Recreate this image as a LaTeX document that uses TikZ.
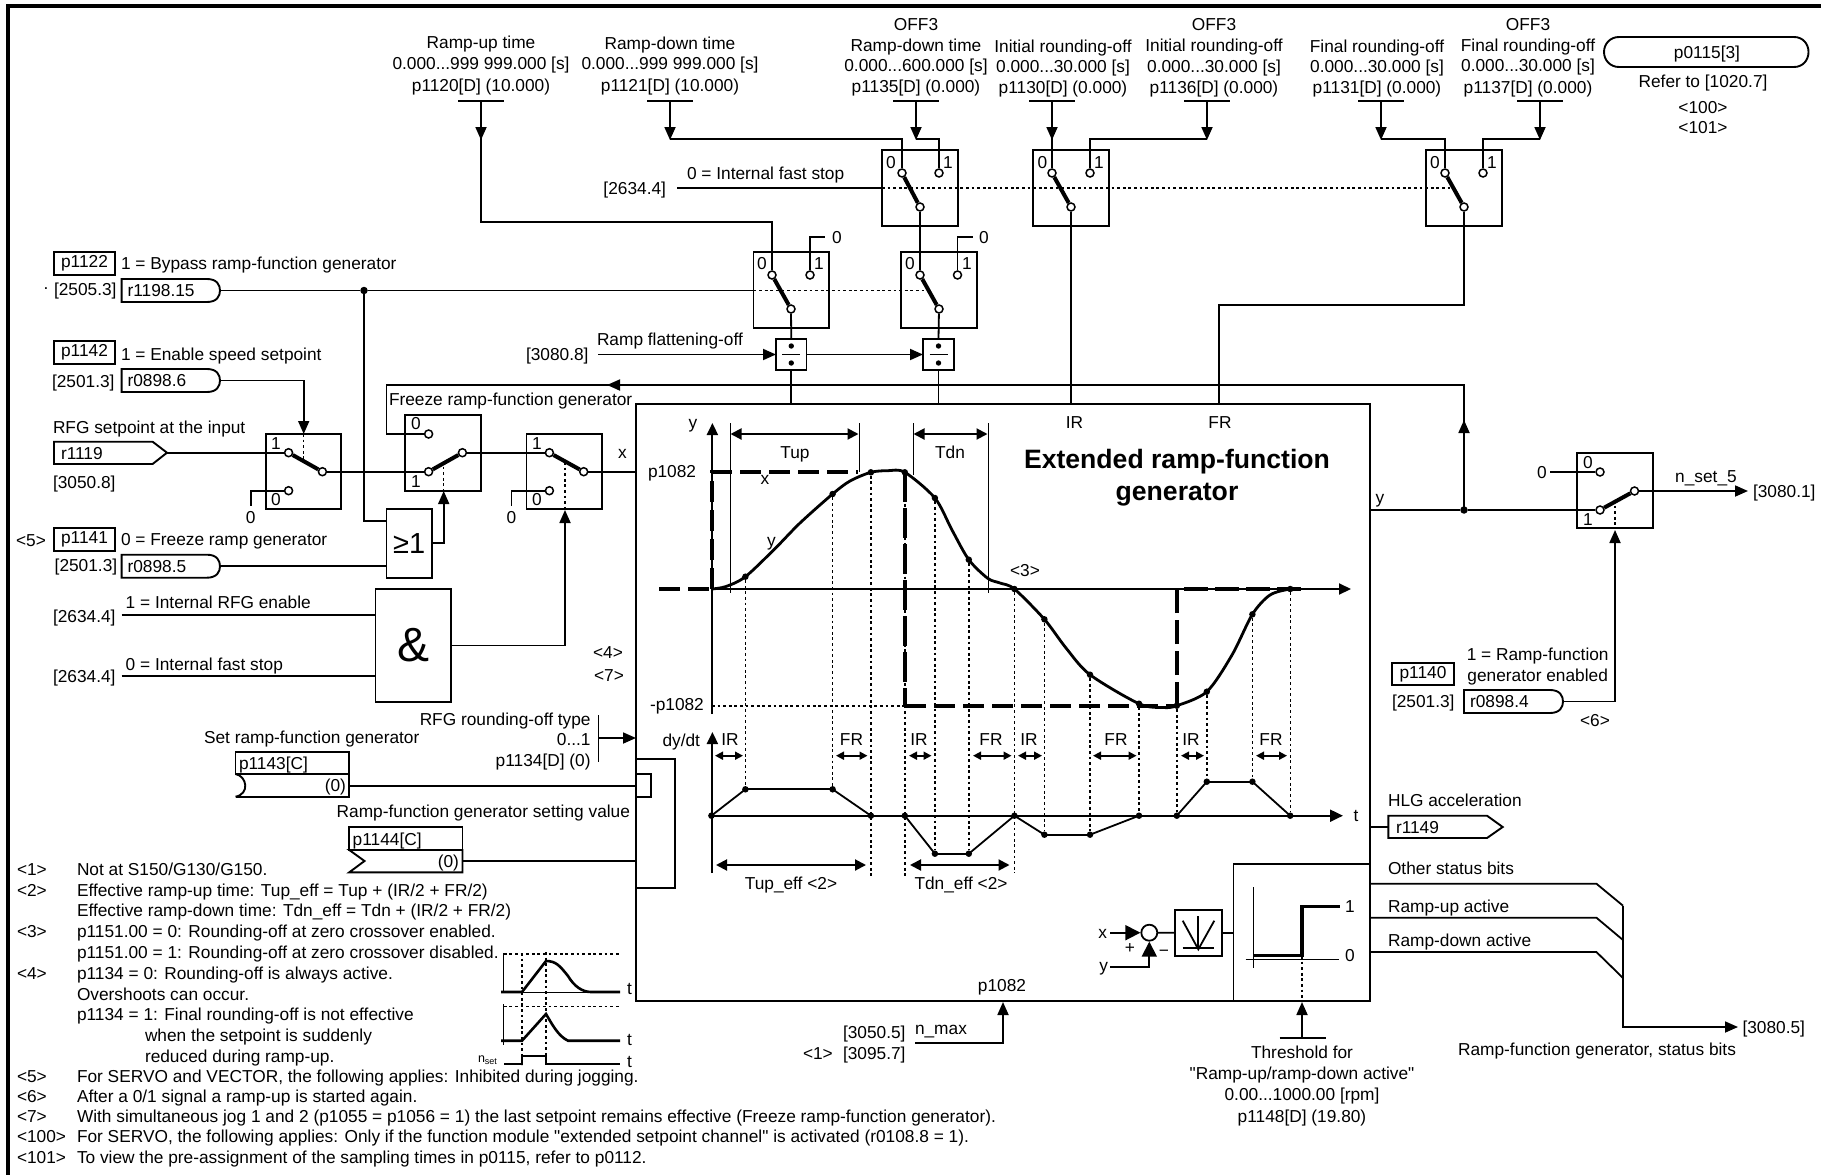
\documentclass[tikz,border=0pt]{standalone}
\usepackage{fontspec}
\setmainfont{Liberation Sans}[Ligatures=TeXOff]
\usetikzlibrary{arrows.meta,calc}
\newcounter{tn}
\newcommand{\pfont}{\fontsize{17.3}{19}\selectfont}
\tikzset{
  wire/.style={line width=1.8pt},
  arr/.style={wire,-{Triangle[length=13pt,width=11pt]}},
  barr/.style={wire,-{Triangle[length=15pt,width=15pt]}},
  darr/.style={line width=2pt,{Triangle[length=11pt,width=11pt]}-{Triangle[length=11pt,width=11pt]}},
  sarr/.style={line width=1.8pt,{Triangle[length=8pt,width=8pt]}-{Triangle[length=8pt,width=8pt]}},
  blk/.style={draw,line width=1.9pt,inner sep=0pt,outer sep=0pt},
  term/.style={circle,draw,fill=white,line width=1.5pt,inner sep=0pt,minimum size=8pt},
  jdot/.style={circle,fill=black,inner sep=0pt,minimum size=7.5pt},
  cdot/.style={circle,fill=black,inner sep=0pt,minimum size=6.5pt},
  lever/.style={line width=4pt},
  dotl/.style={line width=1.4pt,dash pattern=on 2.8pt off 2.8pt},
  setp/.style={line width=3.4pt,dash pattern=on 21pt off 8pt},
  thin/.style={line width=1pt},
  txt/.style={inner sep=0pt,outer sep=0pt,font=\pfont,text height=14pt,text depth=2pt},
  tbig/.style={txt,font=\bfseries\fontsize{26.6}{30}\selectfont,text height=22pt,text depth=3pt,anchor=center},
  tlet/.style={inner sep=0pt,outer sep=0pt,font=\pfont,text height=12pt,text depth=0pt,anchor=center}
}
\newcommand{\T}[3][west]{\stepcounter{tn}\node[txt,anchor=#1] (t\thetn) at (#2) {#3};}
\newcommand{\bx}[6]{\node[blk,anchor=north west,minimum width={(#4-#2)*1pt},minimum height={(#5-#3)*1pt}] (#1) at (#2,#3) {#6};}
\newcommand{\pill}[6]{% name x1 y1 x2 y2 text
  \draw[blk] (#2,#3) -- ({#4-13},#3) .. controls ({#4-3},#3) and (#4,{#3+6}) .. (#4,{(#3+#5)/2}) .. controls (#4,{#5-6}) and ({#4-3},#5) .. ({#4-13},#5) -- (#2,#5) -- cycle;
  \coordinate (#1) at (#4,{(#3+#5)/2});
  \T{{#2+6},{(#3+#5)/2}}{#6}}
\begin{document}
\begin{tikzpicture}[x=1pt,y=-1pt]
\useasboundingbox (0,0) rectangle (1821,1175);
% frame
\draw[line width=3.6pt] (1821,6) -- (8,6) -- (8,1175);

%% ---------- top parameter labels
\T[center]{481,42}{Ramp-up time}
\T[center]{481,63}{0.000...999 999.000 [s]}
\T[center]{481,85}{p1120[D] (10.000)}
\T[center]{670,43}{Ramp-down time}
\T[center]{670,63}{0.000...999 999.000 [s]}
\T[center]{670,85}{p1121[D] (10.000)}
\T[center]{916,24}{OFF3}
\T[center]{916,45}{Ramp-down time}
\T[center]{916,65}{0.000...600.000 [s]}
\T[center]{916,86}{p1135[D] (0.000)}
\T[center]{1063,46}{Initial rounding-off}
\T[center]{1063,66}{0.000...30.000 [s]}
\T[center]{1063,87}{p1130[D] (0.000)}
\T[center]{1214,24}{OFF3}
\T[center]{1214,45}{Initial rounding-off}
\T[center]{1214,66}{0.000...30.000 [s]}
\T[center]{1214,87}{p1136[D] (0.000)}
\T[center]{1377,46}{Final rounding-off}
\T[center]{1377,66}{0.000...30.000 [s]}
\T[center]{1377,87}{p1131[D] (0.000)}
\T[center]{1528,24}{OFF3}
\T[center]{1528,45}{Final rounding-off}
\T[center]{1528,65}{0.000...30.000 [s]}
\T[center]{1528,87}{p1137[D] (0.000)}

% p0115
\draw[blk] (1619,37) -- (1794,37) .. controls (1803,37) and (1808.5,44) .. (1808.5,52) .. controls (1808.5,60) and (1803,67) .. (1794,67) -- (1619,67) .. controls (1610,67) and (1604,60) .. (1604,52) .. controls (1604,44) and (1610,37) .. (1619,37) -- cycle;
\T[center]{1707,52}{p0115[3]}
\T[center]{1703,81}{Refer to [1020.7]}
\T[center]{1703,107}{<100>}
\T[center]{1703,127}{<101>}

%% ---------- switches
\bx{swA}{882}{150}{958}{226}{}
\bx{swB}{1033}{150}{1109}{226}{}
\bx{swG}{1426}{150}{1502}{226}{}
\bx{swC}{753.5}{252}{829}{328}{}
\bx{swD}{901}{252}{977}{328}{}
\bx{swH}{265.7}{434}{341}{509}{}
\bx{swF}{405.3}{415}{481}{490.7}{}
\bx{swJ}{526.5}{434}{602.4}{509}{}
\bx{swO}{1577}{453}{1653}{528}{}

\T[center]{891,162}{0}\T[center]{948,162}{1}
\T[center]{1042.5,162}{0}\T[center]{1099,162}{1}
\T[center]{1435,162}{0}\T[center]{1492,162}{1}
\T[center]{762,263}{0}\T[center]{819,263}{1}
\T[center]{910,263}{0}\T[center]{967,263}{1}
\T[center]{276,443}{1}\T[center]{276,499}{0}
\T[center]{416,423}{0}\T[center]{416,481}{1}
\T[center]{537,443}{1}\T[center]{537,499}{0}
\T[center]{1588,462}{0}\T[center]{1588,519}{1}

% terminals
\node[term] (A0) at (902,173) {};\node[term] (A1) at (939,173) {};\node[term] (Ap) at (920,207) {};
\node[term] (B0) at (1052,173) {};\node[term] (B1) at (1090,173) {};\node[term] (Bp) at (1071,207) {};
\node[term] (G0) at (1445,173) {};\node[term] (G1) at (1483,173) {};\node[term] (Gp) at (1464,207) {};
\node[term] (C0) at (772,275) {};\node[term] (C1) at (810,275) {};\node[term] (Cp) at (791,309) {};
\node[term] (D0) at (920,275) {};\node[term] (D1) at (957.5,275) {};\node[term] (Dp) at (939,309) {};
\node[term] (H1) at (288.6,452.7) {};\node[term] (H0) at (288.6,490.7) {};\node[term] (Hp) at (322.4,471.7) {};
\node[term] (F0) at (428.6,434) {};\node[term] (F1) at (428.6,471.7) {};\node[term] (Fp) at (462.4,452.7) {};
\node[term] (J1) at (549.4,452.7) {};\node[term] (J0) at (549.4,490.7) {};\node[term] (Jp) at (583.7,471.7) {};
\node[term] (O0) at (1600,472) {};\node[term] (O1) at (1600,510) {};\node[term] (Op) at (1634.5,491) {};
% levers
\foreach \a/\b in {A0/Ap,B0/Bp,G0/Gp,C0/Cp,D0/Dp,H1/Hp,F1/Fp,J1/Jp,O1/Op}{\draw[lever] (\a) -- (\b);}

%% ---------- top inputs
\coordinate (i1) at (481,101);\draw[wire] (458,101) -- (504,101);
\coordinate (i2) at (670,101);\draw[wire] (647,101) -- (693,101);
\coordinate (i3) at (916,101);\draw[wire] (893,101) -- (939,101);
\coordinate (i4) at (1052,101);\draw[wire] (1029,101) -- (1075,101);
\coordinate (i5) at (1207,101);\draw[wire] (1184,101) -- (1230,101);
\coordinate (i6) at (1381,101);\draw[wire] (1358,101) -- (1404,101);
\coordinate (i7) at (1540,101);\draw[wire] (1517,101) -- (1563,101);
\draw[arr] (i1) -- (481,140);
\draw[wire] (481,135) -- (481,222) -| (C0);
\draw[arr] (i2) -- (670,140);
\draw[wire] (670,139) -| (A0);
\draw[arr] (i3) -- (916,140);
\draw[wire] (916,139) -| (A1);
\draw[arr] (i4) -- (1052,140);
\draw[wire] (1052,135) -- (B0);
\draw[arr] (i5) -- (1207,140);
\draw[wire] (1207,139) -| (B1);
\draw[arr] (i6) -- (1381,140);
\draw[wire] (1381,139) -| (G0);
\draw[arr] (i7) -- (1540,140);
\draw[wire] (1540,139) -| (G1);
% internal fast stop
\T{687,173}{0 = Internal fast stop}
\T[east]{666,188}{[2634.4]}
\coordinate (ifs) at (677,188);
\draw[wire] (ifs) -- (ifs -| swA.west);
\draw[dotl] (ifs -| swA.west) -- (1451,188);
% switch chain
\draw[wire] (Ap) -- (D0);
\draw[wire] (C1) -- (810,237) -- (825,237);
\T[center]{837,237}{0}
\draw[wire] (D1) -- (957.5,237) -- (973,237);
\T[center]{984,237}{0}
% divide blocks
\bx{divE}{776}{339}{806.5}{370}{}
\bx{divF}{923}{339}{954}{370}{}
\foreach \n in {divE,divF}{
  \draw[wire] ($(\n.center)+(-9,0)$) -- ($(\n.center)+(9,0)$);
  \fill ($(\n.center)+(0,-8.5)$) circle (2.7pt);
  \fill ($(\n.center)+(0,8.5)$) circle (2.7pt);
}
\draw[wire] (Cp) -- (divE.north);
\draw[wire] (Dp) -- (divF.north);
\T{597,339}{Ramp flattening-off}
\T{526,354}{[3080.8]}
\coordinate (rf) at (598,354.5);
\draw[arr] (rf) -- (divE.west);
\draw[arr] (divE.east) -- (divF.west);

%% ---------- main block
\bx{mainbox}{636}{404}{1370}{1001}{}
\draw[wire] (divE.south) -- (divE.south |- mainbox.north);
\draw[wire] (divF.south) -- (divF.south |- mainbox.north);
\draw[wire] (Bp) -- (Bp |- mainbox.north);
\draw[wire] (Gp) -- (1464,305) -- (1219,305) -- (1219,404);
\T[center]{1074.5,422}{IR}
\T[center]{1220,422}{FR}
\node[tbig] (title1) at (1177,459) {Extended ramp-function};
\node[tbig] (title2) at (1177,491) {generator};

%% ---------- graph upper
\draw[line width=2pt,-{Triangle[length=12pt,width=11pt]}] (712.4,714) -- (712.4,423);
\draw[line width=2pt,-{Triangle[length=12pt,width=11pt]}] (712,589) -- (1351,589);
\draw[setp] (659,589) -- (712,589);
\draw[setp] (712,589) -- (712,472) -- (858,472);
\draw[setp,dash pattern=on 30pt off 6pt] (905,472) -- (905,706);
\draw[setp] (905,706) -- (1177,706);
\draw[setp,dash pattern=on 24pt off 7pt] (1177,706) -- (1177,589) -- (1303,589);
\draw[dotl] (712,706) -- (905,706);
\draw[thin] (730,423) -- (730,593);
\draw[thin] (859,423) -- (859,472);
\draw[thin] (913,423) -- (913,475);
\draw[thin] (988,423) -- (988,593);
\draw[darr] (730.5,434) -- (858.5,434);
\draw[darr] (913.5,434) -- (987.5,434);
\T[center]{795,452}{Tup}
\T[center]{950,452}{Tdn}
\T[center]{693,422}{y}
\T[center]{765,478}{x}
\T[center]{771.5,540}{y}
\T{648,471}{p1082}
\T{650,704}{-p1082}
\T[center]{1025,570}{<3>}
\draw[line width=2.8pt] plot[smooth,tension=.5] coordinates {(712,589)(726,586.5)(745.4,576.7)(775,548.6)(800,523)(832.6,494)(850,481)(870.9,472.3)(888,470.7)(904.8,472.3)(934.9,498)(952,530)(968.8,559.7)(987.7,578.3)(1000,583)(1014.4,589)(1044.4,619.3)(1066,648)(1090,674.7)(1139,703.7)(1163,707.5)(1176.8,705.7)(1206.8,691.7)(1232,655)(1252.4,614.3)(1270,595)(1290.2,589)(1300,589)};
% curve points
\node[cdot] (cA) at (745.4,576.7) {};
\node[cdot] (cB) at (832.6,494) {};
\node[cdot] (cC) at (870.9,472.3) {};
\node[cdot] (cD) at (904.8,472.3) {};
\node[cdot] (cE) at (934.9,498) {};
\node[cdot] (cF) at (968.8,559.7) {};
\node[cdot] (cG) at (1014.4,589) {};
\node[cdot] (cH) at (1044.4,619.3) {};
\node[cdot] (cI) at (1090,674.7) {};
\node[cdot] (cJ) at (1139,703.7) {};
\node[cdot] (cK) at (1176.8,705.7) {};
\node[cdot] (cL) at (1206.8,691.7) {};
\node[cdot] (cM) at (1252.4,614.3) {};
\node[cdot] (cN) at (1290.2,589) {};

%% ---------- graph lower
\draw[line width=2pt,-{Triangle[length=12pt,width=11pt]}] (712.4,873) -- (712.4,732);
\draw[line width=2pt,-{Triangle[length=13pt,width=12pt]}] (711,815.7) -- (1343,815.7);
\node[cdot] (dO) at (711.4,815.7) {};
\node[cdot] (dA) at (745.4,789.3) {};
\node[cdot] (dB) at (832.6,789.3) {};
\node[cdot] (dC) at (870.9,815.7) {};
\node[cdot] (dD) at (904.8,815.7) {};
\node[cdot] (dE) at (934.9,853.7) {};
\node[cdot] (dF) at (968.8,853.7) {};
\node[cdot] (dG) at (1014.4,815.7) {};
\node[cdot] (dH) at (1044.4,834.7) {};
\node[cdot] (dI) at (1090,834.7) {};
\node[cdot] (dJ) at (1139,815.7) {};
\node[cdot] (dK) at (1176.8,815.7) {};
\node[cdot] (dL) at (1206.8,781.7) {};
\node[cdot] (dM) at (1252.4,781.7) {};
\node[cdot] (dN) at (1290.2,815.7) {};
\foreach \a/\b in {dO/dA,dA/dB,dB/dC,dD/dE,dE/dF,dF/dG,dG/dH,dH/dI,dI/dJ,dK/dL,dL/dM,dM/dN}{\draw[wire] (\a.center) -- (\b.center);}
\foreach \a/\b in {cA/dA,cB/dB,cE/dE,cF/dF,cH/dH,cI/dI,cJ/dJ,cK/dK,cL/dL,cM/dM,cN/dN}{\draw[dotl] (\a) -- (\b);}
\draw[dotl] (cC) -- (870.9,877);
\draw[dotl] (cD) -- (904.8,877);
\draw[dotl] (cG) -- (1014.4,873);
\T[east]{700,740}{dy/dt}
\T[center]{730,739}{IR}\T[center]{851.5,739}{FR}\T[center]{919,739}{IR}\T[center]{991,739}{FR}
\T[center]{1029,739}{IR}\T[center]{1116,739}{FR}\T[center]{1191,739}{IR}\T[center]{1271,739}{FR}
\draw[sarr] (715,755.7) -- (743,755.7);
\draw[sarr] (836,755.7) -- (867.5,755.7);
\draw[sarr] (909,755.7) -- (931.5,755.7);
\draw[sarr] (973,755.7) -- (1011.5,755.7);
\draw[sarr] (1018,755.7) -- (1042,755.7);
\draw[sarr] (1093,755.7) -- (1136.5,755.7);
\draw[sarr] (1181,755.7) -- (1204,755.7);
\draw[sarr] (1256,755.7) -- (1287,755.7);
\draw[darr] (716,865) -- (866,865);
\draw[darr] (910,865) -- (1009.5,865);
\T[center]{791,883}{Tup\_eff <2>}
\T[center]{961,883}{Tdn\_eff <2>}
\T[center]{1356,815}{t}

%% ---------- comparator group
\bx{hyst}{1233.5}{864}{1370}{1001}{}
\draw[thin] (1253,887) -- (1253,968);
\draw[thin] (1245.6,959) -- (1338.7,959);
\draw[line width=3.2pt] (1253,955.7) -- (1302,955.7) -- (1302,906.7) -- (1340,906.7);
\T[center]{1350,906}{1}
\T[center]{1350,955}{0}
\draw[dotl] (1302,956) -- (1302,1001);
\coordinate (thr) at (1302,1038);
\draw[wire] (1279.5,1038) -- (1325.6,1038);
\draw[arr] (thr) -- (1302,1002);
\T[center]{1302,1052}{Threshold for}
\T[center]{1302,1073}{"Ramp-up/ramp-down active"}
\T[center]{1302,1094}{0.00...1000.00 [rpm]}
\T[center]{1302,1116}{p1148[D] (19.80)}
\node[circle,draw,line width=1.8pt,inner sep=0pt,minimum size=16pt] (sum) at (1149.3,932.7) {};
\bx{absb}{1175.3}{910}{1221.7}{955.7}{}
\draw[wire] (1182.7,920.7) -- (1198.3,949.3) -- (1214.3,920.7);
\draw[wire] (1198.3,916) -- (1198.3,949.3);
\draw[wire] (1182.7,947.7) -- (1214.3,947.7);
\T[center]{1102.6,932}{x}
\T[center]{1103.6,965}{y}
\coordinate (sx) at (1110,932.7);
\coordinate (sy) at (1110,966.7);
\draw[barr] (sx) -- (sum.west);
\draw[barr] (sy) -| (sum.south);
\T[center]{1130,947}{+}
\T[center]{1164,950}{−}
\draw[wire] (sum.east) -- (absb.west);
\draw[wire] (absb.east) -- (absb.east -| hyst.west);
\T[center]{1002,985.7}{p1082}
\T{915,1028}{n\_max}
\T{843,1032}{[3050.5]}
\T{843,1053}{[3095.7]}
\T{803,1053}{<1>}
\coordinate (nm) at (915,1043);
\draw[arr] (nm) -| (1003,1002);

%% ---------- right outputs
\coordinate (my) at (1370,510);
\node[jdot] (jy) at (1464,510) {};
\draw[wire] (my) -- (jy);
\draw[wire] (jy) -- (O1);
\T[center]{1380,497}{y}
\draw[wire] (O0) -- (1550,472);
\T[center]{1542,472}{0}
\draw[arr] (Op) -- (1748,491);
\T[center]{1706,476}{n\_set\_5}
\T{1753,491}{[3080.1]}
\draw[dotl] (1615,500) -- (1615,528);
\pill{r0898d}{1464}{690}{1563}{713}{r0898.4}
\draw[arr] (r0898d) -| (1615,530);
\bx{p1140}{1392}{663}{1454}{685}{\pfont p1140}
\T{1392,701}{[2501.3]}
\T[center]{1537.7,654}{1 = Ramp-function}
\T[center]{1537.7,675}{generator enabled}
\T[center]{1595,720}{<6>}
% feedback y
\coordinate (fb) at (428.6,385);
\draw[wire] (jy) -- (1464,385) -- (386.5,385) -- (386.5,434) -- (F0);
\draw[wire,-{Triangle[length=13pt,width=11pt]}] (1464,510) -- (1464,420);
\draw[wire,-{Triangle[length=13pt,width=11pt]}] (640,385) -- (607,385);
\T{389,399}{Freeze ramp-function generator}
% HLG
\T{1388,800}{HLG acceleration}
\draw[blk] (1388.4,815.7) -- (1487,815.7) -- (1502.7,827) -- (1487,838) -- (1388.4,838) -- cycle;
\coordinate (r1149i) at (1388.4,827);
\T{1396,827}{r1149}
\draw[wire] (r1149i -| mainbox.east) -- (r1149i);
% status
\T{1388,868}{Other status bits}
\T{1388,906}{Ramp-up active}
\T{1388,940}{Ramp-down active}
\coordinate (st) at (1623,1027);
\draw[wire] (1370,883.7) -- (1596.4,883.7) -- (1623,905.7);
\draw[wire] (1370,917.7) -- (1596.4,917.7) -- (1623,940);
\draw[wire] (1370,952) -- (1596.4,952) -- (1623,978);
\draw[arr] (1623,905.7) -- (st) -- (1738,1027);
\T{1742.5,1027}{[3080.5]}
\T[center]{1597,1049}{Ramp-function generator, status bits}

%% ---------- left inputs
\bx{p1122}{54}{252}{115}{275}{\pfont p1122}
\T{121,263}{1 = Bypass ramp-function generator}
\T[center]{46,283}{.}
\T{54,289}{[2505.3]}
\pill{r1198}{121.6}{279}{220}{302}{r1198.15}
\node[jdot] (j1) at (364,290.5) {};
\draw[wire] (r1198) -- (j1);
\draw[wire] (j1) -- (j1 -| swC.west);
\draw[dotl] (j1 -| swC.west) -- (926,290.5);
\bx{p1142}{54}{341}{115}{364}{\pfont p1142}
\T{121,354}{1 = Enable speed setpoint}
\T{52,381}{[2501.3]}
\pill{r0898a}{121.6}{369}{220}{392}{r0898.6}
\draw[arr] (r0898a) -| (303.7,434);
\draw[dotl] (303.7,434) -- (303.7,460);
\T{53,427}{RFG setpoint at the input}
\draw[blk] (54,441.7) -- (152.6,441.7) -- (167,452.7) -- (152.6,464) -- (54,464) -- cycle;
\coordinate (r1119) at (167,452.7);
\T{61,453}{r1119}
\draw[wire] (r1119) -- (H1);
\T{53,482}{[3050.8]}
\draw[wire] (H0) -- (250.6,490.7) -- (250.6,506);
\T[center]{250.6,517}{0}
\draw[wire] (Hp) -- (F1);
\draw[wire] (Fp) -- (J1);
\draw[wire] (J0) -- (511.4,490.7) -- (511.4,506);
\T[center]{511.4,517}{0}
\draw[wire] (Jp) -- (Jp -| mainbox.west);
\T[center]{622.4,452}{x}
\draw[dotl] (443.7,461) -- (443.7,490.7);
\draw[dotl] (565,462) -- (565,509);
% OR
\bx{orb}{386.5}{509}{432}{577.7}{\fontsize{29}{30}\selectfont ≥1}
\draw[wire] (j1) |- (386.5,521);
\T[center]{31,540}{<5>}
\bx{p1141}{54}{528}{115}{551}{\pfont p1141}
\T{121,539}{0 = Freeze ramp generator}
\T{54.7,565}{[2501.3]}
\pill{r0898b}{121.6}{554.7}{220}{577.7}{r0898.5}
\draw[wire] (r0898b) -- (r0898b -| orb.west);
\draw[arr] (orb.east) -| (443.7,491);
% AND
\bx{andb}{375.5}{589}{451}{702}{\fontsize{48}{50}\selectfont \&}
\T{125.7,602}{1 = Internal RFG enable}
\T{53,616}{[2634.4]}
\T{125.7,664}{0 = Internal fast stop}
\T{53,676}{[2634.4]}
\coordinate (a1) at (121.6,615);
\coordinate (a2) at (121.6,675.7);
\draw[wire] (a1) -- (a1 -| andb.west);
\draw[wire] (a2) -- (a2 -| andb.west);
\draw[arr] (andb.east) -| (565,510);
\T[center]{608,652}{<4>}
\T[center]{609,675}{<7>}
% rounding type
\T[east]{590.6,719}{RFG rounding-off type}
\T[east]{590.6,739}{0...1}
\T[east]{590.6,760.7}{p1134[D] (0)}
\draw[wire] (598.4,715) -- (598.4,761.7);
\coordinate (rt) at (598.4,738);
\draw[arr] (rt) -- (rt -| mainbox.west);
\T{204,737}{Set ramp-function generator}
\bx{p1143}{235.5}{751.7}{349}{774}{}
\T{239,763}{p1143[C]}
\draw[blk] (235.5,774) -- (349,774) -- (349,796.7) -- (235.5,796.7);
\draw[blk] (235.5,774) .. controls (247,776) and (250,794) .. (235.5,796.7);
\T[east]{346,785.7}{(0)}
\coordinate (p43) at (349,785.7);
\draw[wire] (p43) -- (p43 -| mainbox.west);
\T{336.7,811.7}{Ramp-function generator setting value}
\bx{p1144}{349.3}{827.3}{462.5}{850}{}
\T{352.7,839}{p1144[C]}
\draw[blk] (349.3,850) -- (462.5,850) -- (462.5,872.3) -- (349.3,872.3) -- (364.5,861) -- cycle;
\T[east]{459,861}{(0)}
\coordinate (p44) at (462.5,861);
\draw[wire] (p44) -- (p44 -| mainbox.west);
\bx{setb}{636}{759}{674.6}{887.7}{}
\bx{setc}{636}{774}{651}{796.7}{}

%% ---------- mini plots
\draw[thin] (503.8,953) -- (503.8,993);
\draw[dotl] (503.8,954) -- (620,954);
\draw[thin] (501,992) -- (620,992);
\draw[line width=2.6pt] (501,992) -- (522,992) -- (546,961) .. controls (556,961) and (560,966) .. (568,976) .. controls (574,986) and (582,992) .. (591,992) -- (620,992);
\node[tlet] (tA) at (629.6,988) {t};
\draw[dotl] (522,953) -- (522,1065);
\draw[dotl] (546,952) -- (546,1065);
\draw[thin] (503.8,1004) -- (503.8,1045);
\draw[dotl] (503.8,1006.7) -- (620,1006.7);
\draw[line width=2.6pt] (501,1040.7) -- (522,1040.7) -- (546,1014) .. controls (552,1024) and (558,1036) .. (568,1040.7) -- (620,1040.7);
\node[tlet] (tB) at (629.6,1039) {t};
\draw[line width=2.6pt] (504,1064) -- (522,1064) -- (522,1056) -- (546,1056) -- (546,1064) -- (620,1064);
\node[tlet] (tC) at (629.6,1061.5) {t};
\node[txt,anchor=west,font=\fontsize{12.5}{14}\selectfont] (nset) at (478,1056) {n\raisebox{-2pt}{\fontsize{9}{10}\selectfont set}};

%% ---------- footnotes
\T{17,869}{<1>}\T{77,869}{Not at S150/G130/G150.}
\T{17,890.7}{<2>}\T{77,890.7}{Effective ramp-up time: Tup\_eff = Tup + (IR/2 + FR/2)}
\T{77,910}{Effective ramp-down time: Tdn\_eff = Tdn + (IR/2 + FR/2)}
\T{17,931.7}{<3>}\T{77,931.7}{p1151.00 = 0: Rounding-off at zero crossover enabled.}
\T{77,952.7}{p1151.00 = 1: Rounding-off at zero crossover disabled.}
\T{17,973.3}{<4>}\T{77,973.3}{p1134 = 0: Rounding-off is always active.}
\T{77,994.3}{Overshoots can occur.}
\T{77,1014.3}{p1134 = 1: Final rounding-off is not effective}
\T{145,1035.3}{when the setpoint is suddenly}
\T{145,1056.7}{reduced during ramp-up.}
\T{17,1076.5}{<5>}\T{77,1076.5}{For SERVO and VECTOR, the following applies: Inhibited during jogging.}
\T{17,1096}{<6>}\T{77,1096}{After a 0/1 signal a ramp-up is started again.}
\T{17,1116}{<7>}\T{77,1116}{With simultaneous jog 1 and 2 (p1055 = p1056 = 1) the last setpoint remains effective (Freeze ramp-function generator).}
\T{17,1136.7}{<100>}\T{77,1136.7}{For SERVO, the following applies: Only if the function module "extended setpoint channel" is activated (r0108.8 = 1).}
\T{17,1157.7}{<101>}\T{77,1157.7}{To view the pre-assignment of the sampling times in p0115, refer to p0112.}
\end{tikzpicture}
\end{document}
